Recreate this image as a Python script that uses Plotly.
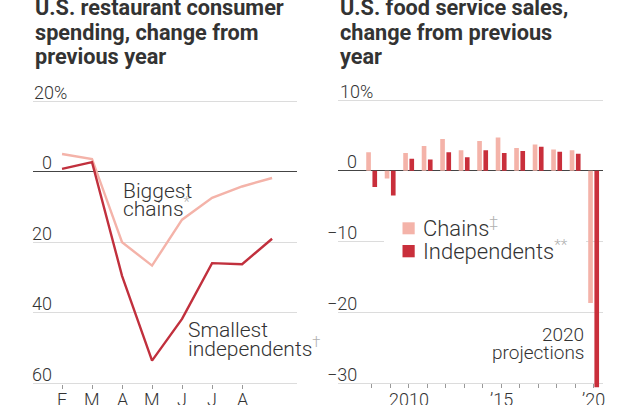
import plotly.graph_objects as go

W, H = 629, 405

# ---- data: left chart (monthly, 2020) ----
month_idx = [0, 1, 2, 3, 4, 5, 6, 7]          # Feb .. Sep
month_ticks = ["F", "M", "A", "M", "J", "J", "A"]
chains_spend = [5.0, 3.6, -20.0, -26.6, -13.6, -7.4, -4.2, -1.8]
indep_spend = [0.8, 2.7, -29.5, -53.5, -41.7, -25.9, -26.2, -19.0]
left_ticks = [20, 0, -20, -40, -60]
left_tick_text = ["20%", "0", "20", "40", "60"]

# ---- data: right chart (annual) ----
years = list(range(2008, 2021))
chains_sales = [2.6, -1.1, 2.5, 3.5, 4.5, 2.9, 4.2, 4.7, 3.2, 3.7, 3.0, 2.9, -18.7]
indep_sales = [-2.3, -3.5, 1.7, 1.6, 2.6, 1.9, 2.9, 2.5, 2.8, 3.4, 2.7, 2.4, -30.6]
year_labels = [2010, 2015, 2020]
year_label_text = ["2010", "\u201915", "\u201920"]
right_ticks = [10, 0, -10, -20, -30]
right_tick_text = ["10%", "0", "\u221210", "\u221220", "\u221230"]

LIGHT = "#f4b3a9"
DARK = "#c92f3b"
LINE_DARK = "#c1303d"
TXT = "#333333"
GRID = "#dcdcdc"
FONT = "Roboto"


def px(x):
    return x / W


def py(y):
    return 1 - y / H


fig = go.Figure()
fig.add_trace(go.Scatter(x=month_idx, y=chains_spend, mode="lines",
                         line=dict(color=LIGHT, width=2.4),
                         xaxis="x", yaxis="y", showlegend=False))
fig.add_trace(go.Scatter(x=month_idx, y=indep_spend, mode="lines",
                         line=dict(color=LINE_DARK, width=2.4),
                         xaxis="x", yaxis="y", showlegend=False))
fig.add_trace(go.Bar(x=years, y=chains_sales, marker=dict(color=LIGHT, line=dict(width=0)),
                     xaxis="x2", yaxis="y2", showlegend=False))
fig.add_trace(go.Bar(x=years, y=indep_sales, marker=dict(color=DARK, line=dict(width=0)),
                     xaxis="x2", yaxis="y2", showlegend=False))

tickfont = dict(family=FONT, size=18, color=TXT, weight=300)

fig.update_layout(
    template="none",
    width=W, height=H, autosize=False,
    margin=dict(l=0, r=0, t=0, b=0, pad=0),
    paper_bgcolor="white", plot_bgcolor="white",
    barmode="group", bargap=0.33, bargroupgap=0.25,
    showlegend=False,
    font=dict(family=FONT, color=TXT),
    xaxis=dict(domain=[px(33), px(297)], range=[-0.967, 7.83], automargin=False,
               tickmode="array", tickvals=month_idx[:7], showticklabels=False,
               ticks="outside", ticklen=4, tickcolor="#999", tickwidth=1,
               showgrid=False, zeroline=False, showline=False,
               anchor="free", position=py(383.5), fixedrange=True),
    yaxis=dict(domain=[py(390.6), py(97.5)], range=[-62, 21], automargin=False,
               tickmode="array", tickvals=left_ticks, showticklabels=False, ticks="",
               showgrid=True, gridcolor=GRID, gridwidth=1,
               zeroline=True, zerolinecolor="#444", zerolinewidth=1.3,
               anchor="x", fixedrange=True),
    xaxis2=dict(domain=[px(338), px(602.7)], range=[2006.18, 2020.49], automargin=False,
                tickmode="array", tickvals=years, showticklabels=False,
                ticks="outside", ticklen=4, tickcolor="#999", tickwidth=1,
                showgrid=False, zeroline=False, showline=False,
                anchor="free", position=py(383.3), fixedrange=True),
    yaxis2=dict(domain=[py(390.1), py(96.46)], range=[-31, 10.5], automargin=False,
                tickmode="array", tickvals=right_ticks, showticklabels=False, ticks="",
                showgrid=True, gridcolor=GRID, gridwidth=1,
                zeroline=True, zerolinecolor="#444", zerolinewidth=1.3,
                anchor="x2", fixedrange=True),
)

ann = []


def text(x, baseline, s, size, anchor="left", color=TXT, weight=300):
    ann.append(dict(xref="paper", yref="paper", x=px(x), y=py(baseline + 0.3 * size),
                    xanchor=anchor, yanchor="bottom", text=s, showarrow=False,
                    borderpad=0,
                    font=dict(family=FONT, size=size, color=color, weight=weight)))


# titles
for i, line in enumerate(["U.S. restaurant consumer", "spending, change from", "previous year"]):
    text(34, 14.5 + 24.5 * i, line, 21.7, weight=700)
for i, line in enumerate(["U.S. food service sales,", "change from previous", "year"]):
    text(339, 14.5 + 24.5 * i, line, 21.7, weight=700)

# y tick labels (placed above gridlines)
for v, t in zip(left_ticks, left_tick_text):
    if t.endswith("%"):
        ann.append(dict(xref="paper", yref="y", x=px(33), y=v, xanchor="left", yanchor="bottom",
                        text=t, showarrow=False, borderpad=0, yshift=-2.5, font=tickfont))
    else:
        ann.append(dict(xref="paper", yref="y", x=px(53), y=v, xanchor="right", yanchor="bottom",
                        text=t, showarrow=False, borderpad=0, yshift=-2.5, font=tickfont))
for v, t in zip(right_ticks, right_tick_text):
    if t.endswith("%"):
        ann.append(dict(xref="paper", yref="y2", x=px(339), y=v, xanchor="left", yanchor="bottom",
                        text=t, showarrow=False, borderpad=0, yshift=-2.5, font=tickfont))
    else:
        ann.append(dict(xref="paper", yref="y2", x=px(357.5), y=v, xanchor="right", yanchor="bottom",
                        text=t, showarrow=False, borderpad=0, yshift=-2.5, font=tickfont))

# x tick labels (below the axes, partly cut by the bottom edge as in the original)
for v, t in zip(month_idx[:7], month_ticks):
    ann.append(dict(xref="x", yref="paper", x=v, y=py(388), xanchor="center", yanchor="top",
                    text=t, showarrow=False, borderpad=0, font=tickfont))
for v, t in zip(year_labels, year_label_text):
    ann.append(dict(xref="x2", yref="paper", x=v, y=py(388), xanchor="center", yanchor="top",
                    text=t, showarrow=False, borderpad=0, font=tickfont))

SUP = "#b0b0b0"


def sup(s):
    return "<sup><span style='color:%s'>%s</span></sup>" % (SUP, s)


# series labels, left chart
text(122, 197.3, "Biggest", 21)
text(122, 215.7, "chains" + sup("*"), 21)
text(187, 336.7, "Smallest", 21)
text(187, 355.7, "independents" + sup("\u2020"), 21)

# right chart note
text(585, 341.7, "2020", 19, anchor="right")
text(585, 359.5, "projections", 19, anchor="right")

# legend (manual)
shapes = [
    dict(type="rect", xref="paper", yref="paper", x0=px(384), x1=px(586), y0=py(262), y1=py(214),
         fillcolor="white", line=dict(width=0), layer="above"),
    dict(type="rect", xref="paper", yref="paper", x0=px(402.5), x1=px(414.7), y0=py(234.3), y1=py(222.3),
         fillcolor=LIGHT, line=dict(width=0), layer="above"),
    dict(type="rect", xref="paper", yref="paper", x0=px(402.5), x1=px(414.7), y0=py(257.3), y1=py(245.0),
         fillcolor=DARK, line=dict(width=0), layer="above"),
]
text(422, 235, "Chains" + sup("\u2021"), 22)
text(422, 258.3, "Independents" + sup("**"), 22)

fig.update_layout(annotations=ann, shapes=shapes)
fig.write_html("out.html")
